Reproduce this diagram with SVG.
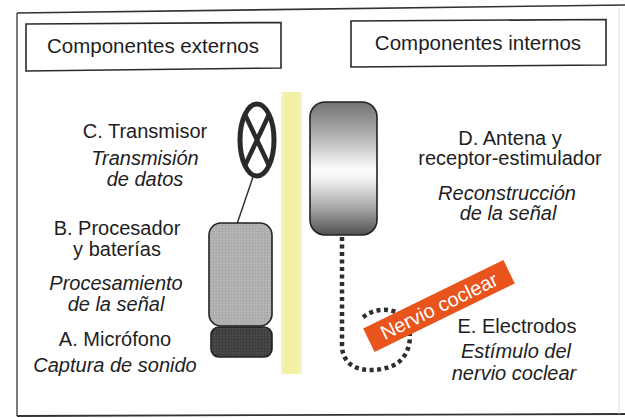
<svg xmlns="http://www.w3.org/2000/svg" width="625" height="418" viewBox="0 0 625 418">
  <defs>
    <style>
      .t { font-family: "Liberation Sans", Arial, sans-serif; font-size: 20px; fill: #1e1e1e; text-anchor: middle; }
      .i { font-style: italic; }
      .hdr { font-family: "Liberation Sans", Arial, sans-serif; font-size: 20.5px; fill: #1e1e1e; text-anchor: middle; }
      .box { fill: #ffffff; stroke: #2a2a2a; stroke-width: 1.6; }
      .dev { stroke: #222; stroke-width: 1.6; }
    </style>
    <!-- fine screen texture for the processor -->
    <pattern id="screenLight" width="3" height="3" patternUnits="userSpaceOnUse">
      <rect width="3" height="3" fill="#b6b6b6"/>
      <path d="M0 0.5H3M0.5 0V3" stroke="#a6a6a6" stroke-width="0.7"/>
    </pattern>
    <!-- darker screen texture for the microphone -->
    <pattern id="screenDark" width="3" height="3" patternUnits="userSpaceOnUse">
      <rect width="3" height="3" fill="#4a4a4a"/>
      <path d="M0 0.5H3M0.5 0V3" stroke="#3a3a3a" stroke-width="0.7"/>
    </pattern>
    <!-- metallic shading for the implanted receiver -->
    <linearGradient id="receiver" x1="0" y1="0" x2="0" y2="1">
      <stop offset="0" stop-color="#727272"/>
      <stop offset="0.25" stop-color="#b0b0b0"/>
      <stop offset="0.5" stop-color="#fbfbfb"/>
      <stop offset="0.58" stop-color="#f2f2f2"/>
      <stop offset="0.8" stop-color="#a6a6a6"/>
      <stop offset="1" stop-color="#505050"/>
    </linearGradient>
    <linearGradient id="skin" x1="0" y1="0" x2="1" y2="0">
      <stop offset="0" stop-color="#f7f5c8"/>
      <stop offset="0.2" stop-color="#f3f0a6"/>
      <stop offset="0.8" stop-color="#f3f0a6"/>
      <stop offset="1" stop-color="#f7f5c8"/>
    </linearGradient>
    <clipPath id="coilClip">
      <ellipse cx="257" cy="140" rx="17" ry="36"/>
    </clipPath>
  </defs>

  <rect width="625" height="418" fill="#ffffff"/>

  <!-- outer frame -->
  <g id="frame" fill="none">
    <path d="M17 13 L625 5" stroke="#333" stroke-width="1.6"/>
    <path d="M17 13 L17 416" stroke="#444" stroke-width="1.4"/>
    <path d="M17 416 L625 414" stroke="#333" stroke-width="1.8"/>
    <path d="M619 8 L619 414" stroke="#e2e2e2" stroke-width="1"/>
  </g>

  <!-- section headers -->
  <g id="header-externos">
    <path class="box" d="M26 24 L281 22.5 L281 68 L26 71 Z"/>
    <text class="hdr" x="153" y="53">Componentes externos</text>
  </g>
  <g id="header-internos">
    <path class="box" d="M351 21 L606 19.5 L606 65 L351 67 Z"/>
    <text class="hdr" x="478" y="50">Componentes internos</text>
  </g>

  <!-- skin barrier -->
  <g id="skin-barrier">
    <rect x="281" y="92" width="21" height="282" fill="url(#skin)"/>
  </g>

  <!-- connectors -->
  <g id="connectors" fill="none">
    <path d="M253 177 L237 224" stroke="#333" stroke-width="1.5"/>
    <path d="M342 237 L342 345 C342 372 372 374 392 366 C412 358 414 330 404 318 C394 306 372 308 361 319"
          stroke="#2e2e2e" stroke-width="4.5" stroke-dasharray="4 3.5"/>
  </g>

  <!-- C. Transmisor -->
  <g id="node-transmisor">
    <g clip-path="url(#coilClip)" stroke="#2a2a2a" stroke-width="4.5">
      <path d="M241 106 L273 174 M273 106 L241 174"/>
    </g>
    <ellipse cx="257" cy="140" rx="17" ry="36" fill="none" stroke="#2a2a2a" stroke-width="5"/>
    <text class="t" x="145" y="138">C. Transmisor</text>
    <text class="t i" x="145" y="165">Transmisión</text>
    <text class="t i" x="145" y="186">de datos</text>
  </g>

  <!-- B. Procesador -->
  <g id="node-procesador">
    <rect class="dev" x="209" y="223" width="63" height="103" rx="12" fill="url(#screenLight)"/>
    <text class="t" x="117" y="235">B. Procesador</text>
    <text class="t" x="117" y="256">y baterías</text>
    <text class="t i" x="116" y="290">Procesamiento</text>
    <text class="t i" x="116" y="311">de la señal</text>
  </g>

  <!-- A. Micrófono -->
  <g id="node-microfono">
    <rect class="dev" x="211" y="327" width="61" height="30" rx="8" fill="url(#screenDark)"/>
    <text class="t" x="115" y="346">A. Micrófono</text>
    <text class="t i" x="115" y="372">Captura de sonido</text>
  </g>

  <!-- D. Antena y receptor-estimulador -->
  <g id="node-receptor">
    <rect class="dev" x="310" y="102" width="67" height="133" rx="15" fill="url(#receiver)"/>
    <text class="t" x="510" y="145">D. Antena y</text>
    <text class="t" x="510" y="165">receptor-estimulador</text>
    <text class="t i" x="507" y="200">Reconstrucción</text>
    <text class="t i" x="508" y="220">de la señal</text>
  </g>

  <!-- E. Electrodos -->
  <g id="node-electrodos">
    <text class="t" x="517" y="333">E. Electrodos</text>
    <text class="t i" x="516" y="358">Estímulo del</text>
    <text class="t i" x="514" y="380">nervio coclear</text>
  </g>

  <!-- cochlear nerve tag -->
  <g id="node-nervio" transform="translate(439 306) rotate(-26)">
    <rect x="-78" y="-13" width="156" height="26" fill="#e8541c"/>
    <text x="0" y="7" font-family="'Liberation Sans', Arial, sans-serif" font-size="20" fill="#ffffff" text-anchor="middle">Nervio coclear</text>
  </g>
</svg>
